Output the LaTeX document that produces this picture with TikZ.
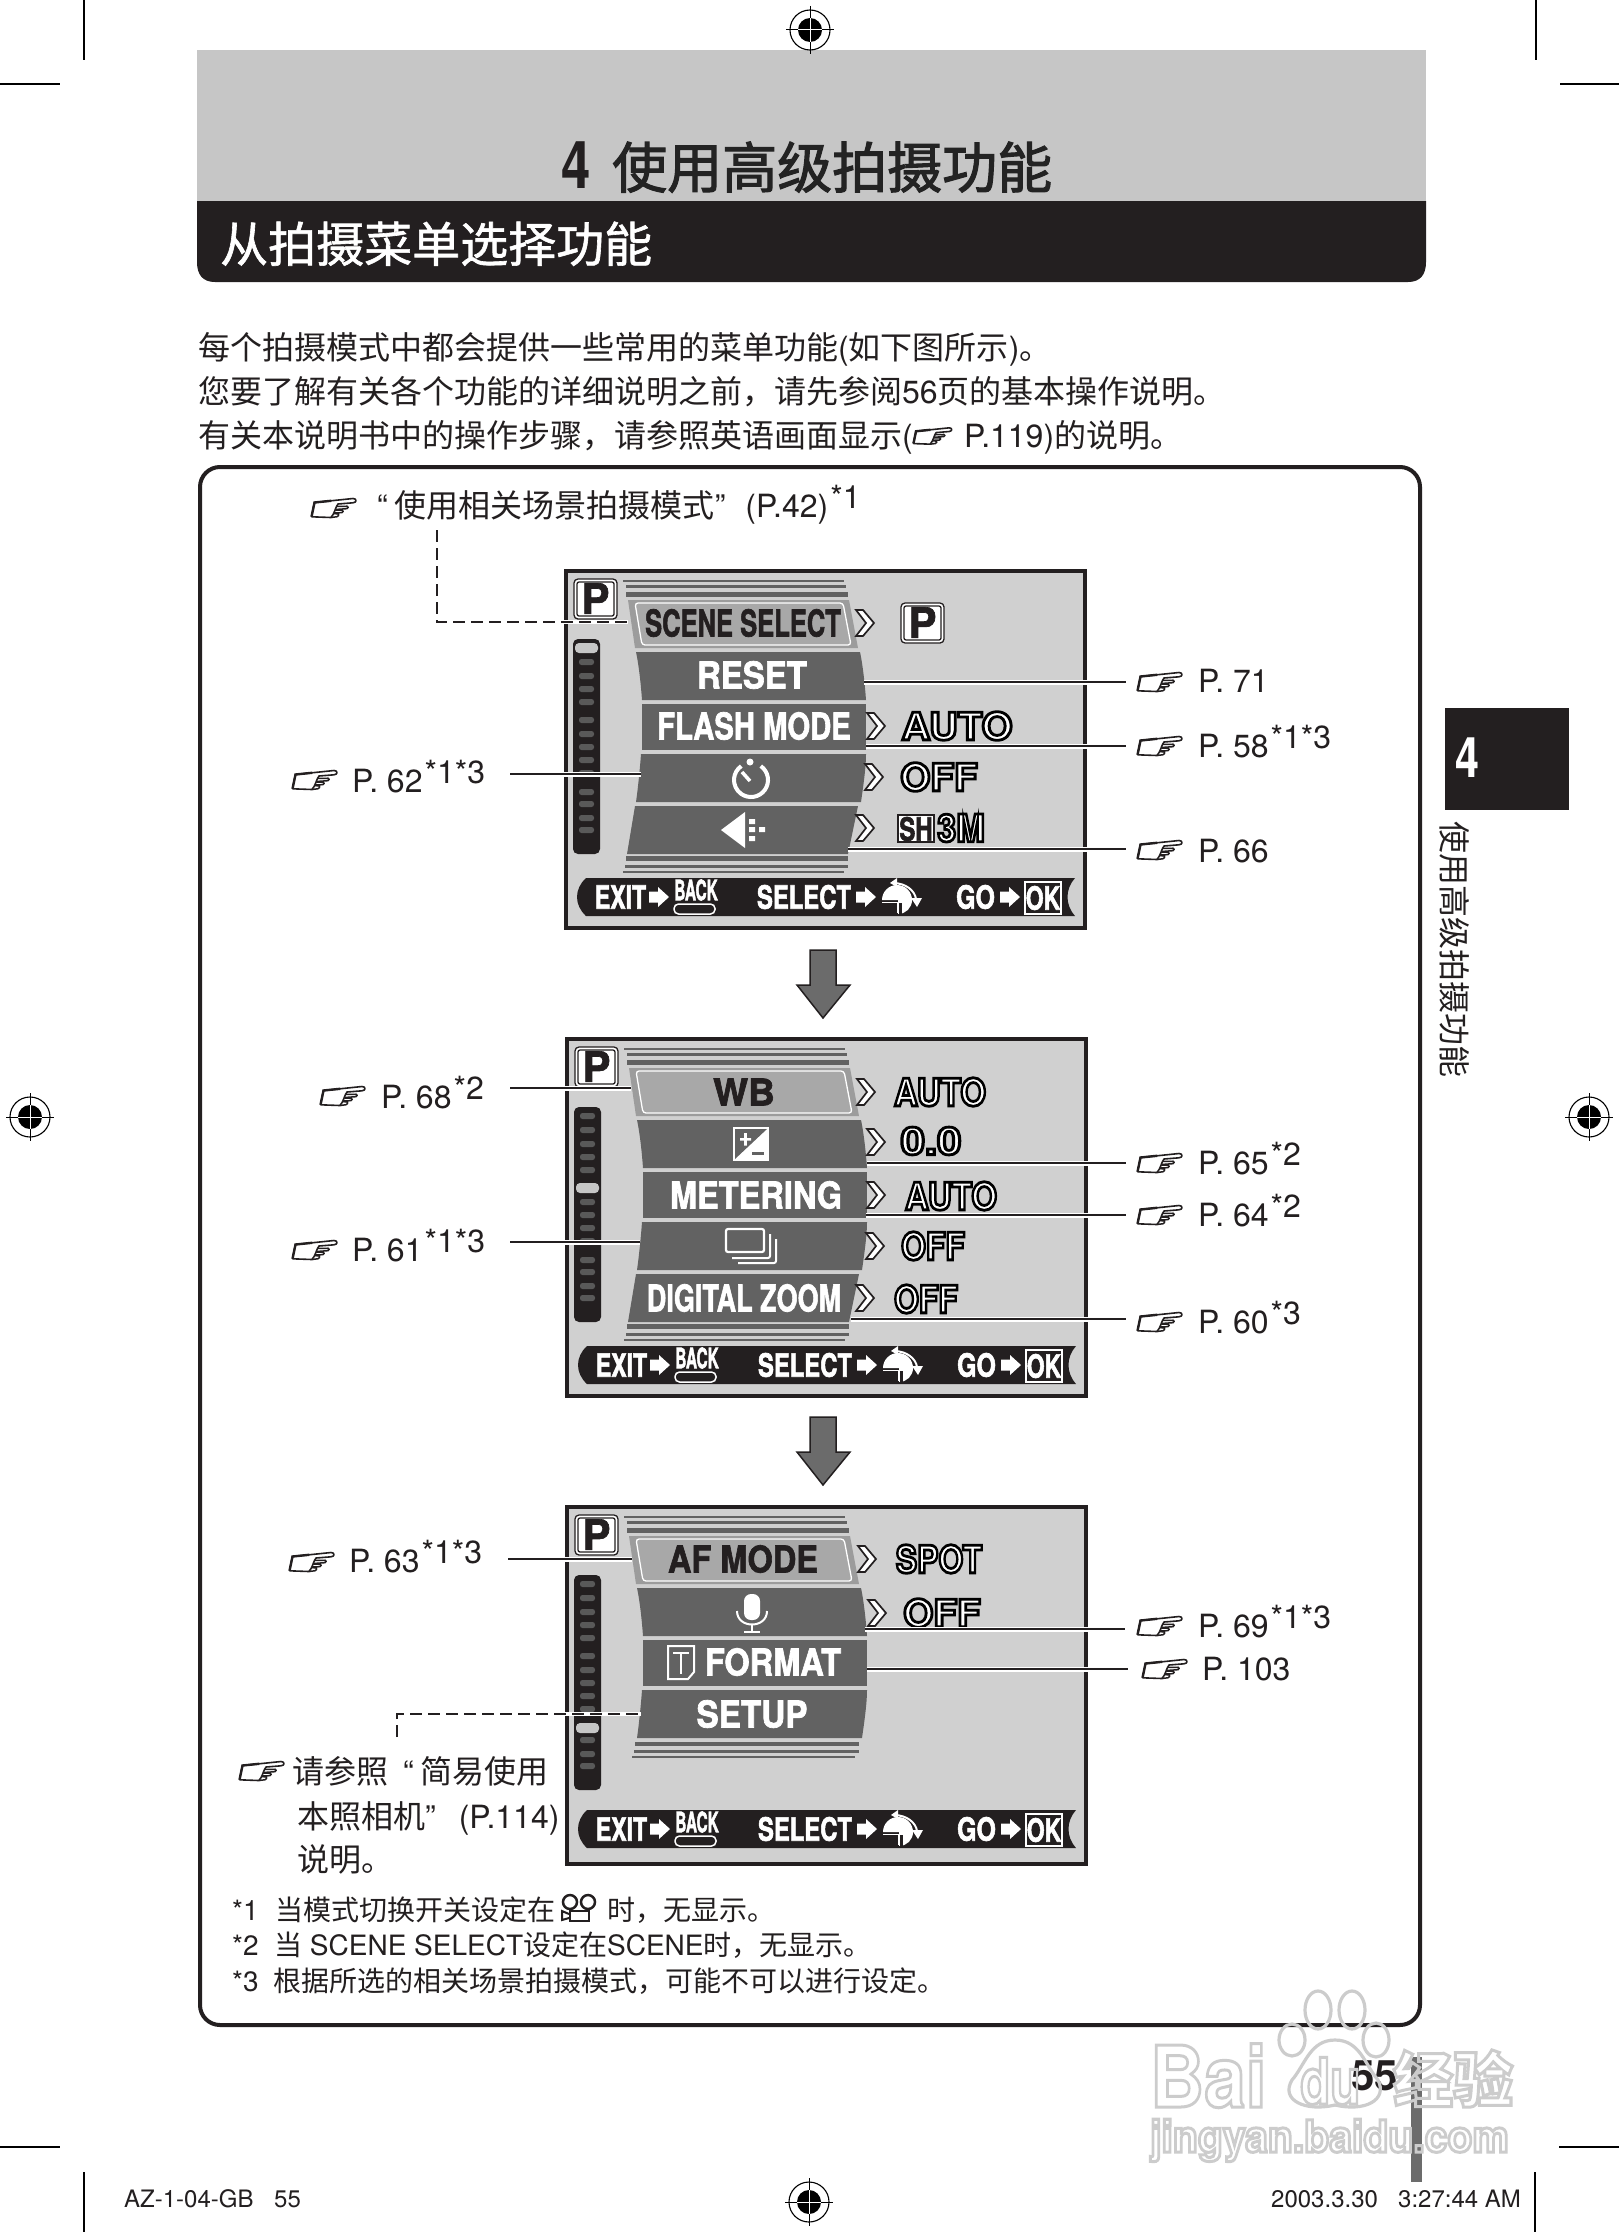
\documentclass[tikz,border=0pt]{standalone}
\usepackage{fontspec}
\setmainfont{TeX Gyre Heros}
\newfontfamily\cjkf{Noto Sans CJK SC}
\newcommand\zw[1]{{\cjkf #1}}
\definecolor{ink}{HTML}{231F20}
\definecolor{scr}{HTML}{D0D0D0}
\definecolor{bandc}{HTML}{626262}
\definecolor{selb}{HTML}{9C9C9C}
\definecolor{seli}{HTML}{A8A8A8}
\definecolor{hdr}{HTML}{C6C6C6}
\newcommand\ot[1]{\special{pdf:code 2 Tr 2.8 w 1 g 0 G}#1\special{pdf:code 0 Tr 1 w 0 g 0 G}}
\newcommand\wm[1]{\special{pdf:code 1 Tr 3 w 0.8 G}#1\special{pdf:code 0 Tr 1 w 0 G}}
\newcommand\hk[1]{\special{pdf:code 2 Tr 1.1 w 0.137 g 0.137 G}#1\special{pdf:code 0 Tr 1 w 0 g 0 G}}
\newcommand\hw[1]{\special{pdf:code 2 Tr 0.6 w 1 g 1 G}#1\special{pdf:code 0 Tr 1 w 0 g 0 G}}
\newcommand\supx[1]{\hspace{2pt}\raisebox{9pt}{\fontsize{32}{32}\selectfont #1}}
\tikzset{
  fs/.style={font=\fontsize{#1}{#1}\selectfont},
  tx/.style={fs=#1,anchor=base west,inner sep=0pt,text=ink},
  whitebold/.style={execute at begin node={\special{pdf:code 2 Tr 0.7 w 1 g 1 G}},execute at end node={\special{pdf:code 0 Tr 1 w 0 g 0 G}}},
  inkbold/.style={execute at begin node={\special{pdf:code 2 Tr 0.7 w 0.137 g 0.137 G}},execute at end node={\special{pdf:code 0 Tr 1 w 0 g 0 G}}},
  ml/.style={font=\fontsize{37}{37}\selectfont\bfseries,inner sep=0pt,transform shape,xscale=#1,text=white,whitebold},
  bt/.style={font=\fontsize{32}{32}\selectfont\bfseries,inner sep=0pt,transform shape,xscale=#1,text=white,whitebold},
  val/.style={font=\fontsize{38}{38}\selectfont\bfseries,inner sep=0pt,transform shape,xscale=#1},
  band/.style={fill=bandc},
  sline/.style={fill=bandc},
  leadh/.style={white,line width=5pt},
  leadk/.style={ink,line width=2.2pt},
  dashln/.style={ink,line width=1.8pt,dash pattern=on 12pt off 6pt},
  pics/handicon/.style={code={
    \draw[ink,line width=1.6pt,line join=round]
      (0.5,8.8) -- (3.5,-5.5) -- (42,-9.5) .. controls (46,-9.5) and (46,-5.5) .. (42,-5.2) -- (27,-4)
      .. controls (24,0) and (24,5) .. (20,9.5) -- (0.5,8.8);
    \draw[ink,line width=2.4pt] (0.5,8.8) -- (3.5,-5.5) -- (20,-7.2);
    \draw[ink,line width=1.5pt,rounded corners=1pt]
      (25,-1.5) -- (37,-1.8) -- (37,0.6) -- (24,1.5)
      (24.5,2.2) -- (32,2.2) -- (32,4.6) -- (23.5,5)
      (23,5.6) -- (28,6) -- (27,8.6) -- (20,9.5);
  }},
}
\newcommand\Reg[2]{%
  \fill[white] (#1,#2) circle[radius=20];
  \draw[black,line width=1.1pt] (#1,#2) circle[radius=20];
  \fill[black] (#1,#2) circle[radius=12];
  \draw[black,line width=1pt] (#1-24,#2) -- (#1+24,#2) (#1,#2-24) -- (#1,#2+24);
  \draw[white,line width=1pt] (#1-12,#2) -- (#1+12,#2) (#1,#2-12) -- (#1,#2+12);
}
\newcommand\Chev[2]{%
  \draw[ink,fill=white,line width=1.7pt,line join=miter]
    (#1-9,#2-13) -- (#1-2,#2-13) -- (#1+9,#2) -- (#1-2,#2+13) -- (#1-9,#2+13) -- (#1+1,#2) -- cycle;
}
\newcommand\Pbox[3]{%
  \draw[ink,fill=white,line width=1.3pt,rounded corners=4pt] (#1,#2) rectangle (#1+43,#2+40);
  \draw[ink,line width=1.3pt,rounded corners=2pt] (#1+3,#2+3) rectangle (#1+40,#2+37);
  \node[font=\fontsize{42}{42}\selectfont\bfseries,inner sep=0pt,text=ink,inkbold] (#3) at (#1+21.5,#2+19.5) {P};
}
\newcommand\WArr[2]{%
  \fill[white] (#1,#2-5.5) -- (#1+9,#2-5.5) -- (#1+9,#2-10) -- (#1+20,#2) -- (#1+9,#2+10) -- (#1+9,#2+5.5) -- (#1,#2+5.5) -- cycle;
}
% frame, dots, rulers, bar  #1 x  #2 y  #3 selected dot y  #4 bar offset  #5 name prefix
\newcommand\ScreenBase[5]{%
  \draw[ink,fill=scr,line width=4pt] (0,0) rectangle (519,357);
  \fill[ink,rounded corners=5pt] (7,68) rectangle (34,283);
  \foreach \yy in {77,91,105,118,131,149,163,176,189,202,221,233,247,259}{
    \fill[gray!70!black,rounded corners=2.5pt] (13,\yy-3) rectangle (28,\yy+3);
  }
  \fill[gray!45,rounded corners=4pt] (9,#3-5) rectangle (32,#3+5);
  \Pbox{8}{8}{#5p}
  \fill[sline] (57,9) rectangle (278,10.5);
  \fill[sline] (60,14) rectangle (280,17);
  \fill[sline] (60,21) rectangle (282,26);
  \fill[selb] (62,29) -- (283,29) -- (292,77) -- (69,77) -- cycle;
  \draw[white,fill=seli,line width=1.3pt,rounded corners=3pt] (69,32) -- (277,32) -- (285,74) -- (76,74) -- cycle;
  \begin{scope}[shift={(0,#4)}]
    \fill[ink] (20,307) -- (509,307) .. controls (499,318) and (499,334) .. (509,345) -- (20,345) .. controls (8,334) and (8,318) .. (20,307) -- cycle;
    \node[bt=.72] (#5exit) at (54.5,326) {EXIT};
    \WArr{83}{326}
    \node[font=\fontsize{28}{28}\selectfont\bfseries,inner sep=0pt,transform shape,xscale=.55,text=white,whitebold] (#5back) at (130,319) {BACK};
    \draw[white,line width=1.5pt,rounded corners=4.5pt] (108,333) rectangle (149,343);
    \node[bt=.745] (#5sel) at (238,326) {SELECT};
    \WArr{290}{326}
    \fill[white] (316,329) arc[start angle=180,end angle=0,radius=15pt] -- cycle;
    \fill[white] (332,329) -- (346,329) arc[start angle=0,end angle=-90,radius=14pt] -- cycle;
    \draw[ink,line width=2.5pt] (314,333.5) -- (334.5,333.5) -- (334.5,345);
    \draw[white,line width=1.5pt] (316,331.5) -- (332,331.5) -- (332,342);
    \draw[white,line width=2pt] (327,312) .. controls (340,312) and (349,320) .. (350,328);
    \fill[white] (345,327) -- (356,327) -- (351,336) -- cycle;
    \fill[white] (331,307) -- (331,316) -- (324,312) -- cycle;
    \node[bt=.78] (#5go) at (409.5,326) {GO};
    \WArr{434}{326}
    \draw[white,line width=1.8pt] (459,311) rectangle (495,343);
    \node[bt=.72] (#5ok) at (477,327) {OK};
  \end{scope}
}
\newcommand\RulersBottom{%
  \fill[sline] (60,285) rectangle (282,290);
  \fill[sline] (59,294) rectangle (282,297);
  \fill[sline] (57,300) rectangle (278,301.5);
}
\newcommand\BandsMid{%
  \fill[band] (70,81) -- (294,81) .. controls (297,95) and (299,115) .. (300,129) -- (76,129) .. controls (75,115) and (73,95) .. (70,81) -- cycle;
  \fill[band] (76,133) -- (300,133) -- (300,179) -- (76,179) -- cycle;
  \fill[band] (75,183) -- (300,183) .. controls (300,197) and (297,217) .. (295,231) -- (70,231) .. controls (72,217) and (74,197) .. (75,183) -- cycle;
}
\newcommand\BandFive{\fill[band] (69,235) -- (292,235) -- (282,283) -- (61,283) -- cycle;}
% leader: name, x1, y, x2
\newcommand\Lead[4]{%
  \coordinate (#1a) at (#2,#3); \coordinate (#1b) at (#4,#3);
  \draw[leadh] (#1a) -- (#1b);
  \draw[leadk] (#1a) -- (#1b);
}
\begin{document}
\begin{tikzpicture}[x=1pt,y=-1pt]
\useasboundingbox (0,0) rectangle (1619,2232);
\fill[white] (0,0) rectangle (1619,2232);
% crop marks
\draw[black,line width=1.1pt]
  (84,0) -- (84,60) (1536,0) -- (1536,60) (0,84) -- (60,84) (1560,84) -- (1619,84)
  (84,2172) -- (84,2232) (1535,2172) -- (1535,2232) (0,2147) -- (60,2147) (1559,2147) -- (1619,2147);
% header
\fill[hdr] (197,50) rectangle (1426,201);
\fill[ink] (197,201) -- (1426,201) -- (1426,262) .. controls (1426,275) and (1420,282) .. (1408,282) -- (215,282) .. controls (203,282) and (197,275) .. (197,262) -- cycle;
\Reg{810}{30}
\Reg{30}{1117}
\Reg{1589}{1117}
\Reg{809}{2202}
\node[font=\fontsize{66}{66}\selectfont\bfseries,anchor=base west,inner sep=0pt,text=ink,transform shape,xscale=.8] (ttl4) at (561,188) {4};
\node[font=\fontsize{55}{55}\selectfont,anchor=base west,inner sep=0pt,text=ink] (ttl) at (612,188) {\zw{\hk{使用高级拍摄功能}}};
\node[font=\fontsize{48}{48}\selectfont,anchor=base west,inner sep=0pt,text=white] (sub) at (220,262) {\zw{\hw{从拍摄菜单选择功能}}};
% intro
\node[tx=32] (p1) at (198,359) {\zw{每个拍摄模式中都会提供一些常用的菜单功能}(\zw{如下图所示})\zw{。}};
\node[tx=32] (p2) at (198,403) {\zw{您要了解有关各个功能的详细说明之前，请先参阅}56\zw{页的基本操作说明。}};
\node[tx=32] (p3a) at (198,447) {\zw{有关本说明书中的操作步骤，请参照英语画面显示}(};
\pic[scale=.86] at (913,436) {handicon};
\node[tx=32] (p3b) at (964,447) {P.119)\zw{的说明。}};
% frame
\draw[ink,line width=4pt,rounded corners=20pt] (200,467) rectangle (1420,2025);
% top callout
\pic at (311,508) {handicon};
\node[tx=32] (top) at (377,517) {“\hspace{7pt}\zw{使用相关场景拍摄模式}”\hspace{20pt}(P.42)\supx{*1}};
% ---------- screen 1
\begin{scope}[shift={(566,571)}]
  \ScreenBase{0}{0}{77}{0}{sa}
  \BandsMid\BandFive\RulersBottom
  \node[ml=.69,text=ink,inkbold] (a1) at (177,52) {SCENE SELECT};
  \node[ml=.89] (a2) at (186,104) {RESET};
  \node[ml=.79] (a3) at (188,155) {FLASH MODE};
  \draw[white,line width=4pt] (185,209) ++(55:17pt) arc[start angle=55,end angle=-235,radius=17pt];
  \fill[white] (184,191) circle[radius=3.5];
  \draw[white,line width=3.5pt] (176,201) -- (184,210);
  \fill[white] (155,259) -- (179,241) -- (179,277) -- cycle;
  \fill[white] (183,248) rectangle (189,253) (183,256) rectangle (189,261) (183,265) rectangle (189,270) (193,256) rectangle (199,261);
  \Chev{299}{52}\Chev{310}{155}\Chev{308}{206}\Chev{299}{257}
  \Pbox{335}{32}{avp}
  \node[val=1.05] (av2) at (391,155) {\ot{AUTO}};
  \node[val=1.02] (av3) at (373,206) {\ot{OFF}};
  \draw[ink,fill=white,line width=1.5pt] (332,244) rectangle (368,271);
  \node[font=\fontsize{32}{32}\selectfont\bfseries,inner sep=0pt,transform shape,xscale=.75,text=ink,inkbold] (av4) at (350,258) {SH};
  \node[val=.9] (av5) at (395,257) {\ot{3M}};
\end{scope}
% ---------- screen 2
\begin{scope}[shift={(567,1039)}]
  \ScreenBase{0}{0}{149}{0}{sb}
  \BandsMid\BandFive\RulersBottom
  \node[ml=1,text=ink,inkbold] (b1) at (177,53) {WB};
  \fill[white] (166,88) rectangle (202,122);
  \fill[bandc] (168,90) -- (200,90) -- (168,120) -- cycle;
  \fill[white] (173,99) rectangle (184,101.5) (177.2,94) rectangle (179.8,106.5);
  \fill[bandc] (185,113) rectangle (197,116);
  \node[ml=.88] (b3) at (189,156) {METERING};
  \draw[white,line width=2.2pt,rounded corners=2pt] (159,190) rectangle (197,213);
  \draw[white,line width=2pt,rounded corners=2pt] (203,195) -- (203,219) -- (165,219);
  \draw[white,line width=2pt,rounded corners=2pt] (209,200) -- (209,224) -- (171,224);
  \node[ml=.73] (b5) at (177,259) {DIGITAL ZOOM};
  \Chev{299}{53}\Chev{309}{103}\Chev{309}{156}\Chev{308}{207}\Chev{298}{259}
  \node[val=.87] (bv1) at (373,53) {\ot{AUTO}};
  \node[val=1.15] (bv2) at (364,102) {\ot{0.0}};
  \node[val=.87] (bv3) at (384,157) {\ot{AUTO}};
  \node[val=.84] (bv4) at (366,207) {\ot{OFF}};
  \node[val=.84] (bv5) at (359,260) {\ot{OFF}};
\end{scope}
% ---------- screen 3
\begin{scope}[shift={(567,1507)}]
  \ScreenBase{0}{0}{221}{-4}{sc}
  \BandsMid
  \fill[sline] (68,235) rectangle (292,239);
  \fill[sline] (67,243) rectangle (292,246);
  \fill[sline] (65,249) rectangle (288,250.5);
  \node[ml=.88,text=ink,inkbold] (c1) at (176,52) {AF MODE};
  \fill[white,rounded corners=7pt] (177,87) rectangle (193,113);
  \draw[white,line width=2pt] (170,104) .. controls (170,122) and (200,122) .. (200,104);
  \draw[white,line width=2pt] (185,117) -- (185,124) (177,125) -- (193,125);
  \draw[white,line width=2pt] (101,139) -- (127,139) -- (127,165) -- (121,172) -- (101,172) -- cycle;
  \draw[white,line width=2.5pt] (106,146) -- (122,146) (114,146) -- (114,167);
  \node[ml=.88] (c3) at (206,155) {FORMAT};
  \node[ml=.9] (c4) at (185,207) {SETUP};
  \Chev{300}{52}\Chev{310}{106}
  \node[val=.84] (cv1) at (372,52) {\ot{SPOT}};
  \node[val=1.02] (cv2) at (375,106) {\ot{OFF}};
\end{scope}
% grey arrows
\draw[ink,fill=black!58,line width=1.5pt] (810,950) -- (836,950) -- (836,985) -- (850,985) -- (823,1018) -- (797,985) -- (810,985) -- cycle;
\draw[ink,fill=black!58,line width=1.5pt] (810,1417) -- (836,1417) -- (836,1452) -- (850,1452) -- (823,1485) -- (797,1452) -- (810,1452) -- cycle;
% dashed leader 1
\coordinate (d1a) at (437,530); \coordinate (d1b) at (437,622); \coordinate (d1c) at (628,622);
\draw[white,line width=3.6pt] (d1b) -- (d1c);
\draw[dashln] (d1a) -- (d1b) -- (d1c);
% leaders
\Lead{l71}{864}{682}{1126}
\Lead{l58}{866}{746}{1126}
\Lead{l62}{510}{774}{641}
\Lead{l66}{848}{849}{1126}
\Lead{l68}{510}{1088}{631}
\Lead{l61}{510}{1242}{640}
\Lead{l65}{867}{1163}{1126}
\Lead{l64}{866}{1215}{1126}
\Lead{l60}{851}{1319}{1126}
\Lead{l63}{508}{1559}{632}
\Lead{l69}{865}{1629}{1125}
\Lead{l103}{867}{1669}{1128}
% dashed leader 2
\coordinate (d2a) at (397,1737); \coordinate (d2b) at (397,1714); \coordinate (d2c) at (641,1714);
\draw[white,line width=3.6pt] (d2b) -- (d2c);
\draw[dashln] (d2a) -- (d2b) -- (d2c);
% labels right
\pic at (1137,682) {handicon}; \node[tx=32] (t71) at (1198,692) {P. 71};
\pic at (1137,746) {handicon}; \node[tx=32] (t58) at (1198,757) {P. 58\supx{*1*3}};
\pic at (1137,850) {handicon}; \node[tx=32] (t66) at (1198,862) {P. 66};
\pic at (1137,1163) {handicon}; \node[tx=32] (t65) at (1198,1174) {P. 65\supx{*2}};
\pic at (1137,1215) {handicon}; \node[tx=32] (t64) at (1198,1226) {P. 64\supx{*2}};
\pic at (1137,1322) {handicon}; \node[tx=32] (t60) at (1198,1333) {P. 60\supx{*3}};
\pic at (1137,1626) {handicon}; \node[tx=32] (t69) at (1198,1637) {P. 69\supx{*1*3}};
\pic at (1142,1669) {handicon}; \node[tx=32] (t103) at (1202,1680) {P. 103};
% labels left
\pic at (292,780) {handicon}; \node[tx=32] (t62) at (352,792) {P. 62\supx{*1*3}};
\pic at (320,1096) {handicon}; \node[tx=32] (t68) at (381,1108) {P. 68\supx{*2}};
\pic at (292,1250) {handicon}; \node[tx=32] (t61) at (352,1261) {P. 61\supx{*1*3}};
\pic at (289,1562) {handicon}; \node[tx=32] (t63) at (349,1572) {P. 63\supx{*1*3}};
% setup label
\pic at (239,1771) {handicon};
\node[tx=32] (s1) at (292,1783) {\zw{请参照}\hspace{15pt}“\hspace{7pt}\zw{简易使用}};
\node[tx=32] (s2) at (297,1828) {\zw{本照相机}”\hspace{23pt}(P.114)};
\node[tx=32] (s3) at (297,1871) {\zw{说明。}};
% footnotes
\node[tx=28] (f1a) at (232,1920) {*1};
\node[tx=28] (f1b) at (275,1920) {\zw{当模式切换开关设定在}};
\draw[ink,line width=2.5pt] (570,1902) circle[radius=7] (588,1902) circle[radius=7];
\draw[ink,line width=2.5pt] (570,1911) rectangle (589,1921);
\draw[ink,line width=2pt] (569,1914) -- (562,1911) -- (562,1920) -- (569,1918);
\node[tx=28] (f1c) at (607,1920) {\zw{时，无显示。}};
\node[tx=28] (f2a) at (232,1955) {*2};
\node[tx=28] (f2b) at (274,1955) {\zw{当} SCENE SELECT\zw{设定在}SCENE\zw{时，无显示。}};
\node[tx=28] (f3a) at (232,1991) {*3};
\node[tx=28] (f3b) at (273,1991) {\zw{根据所选的相关场景拍摄模式，可能不可以进行设定。}};
% side tab
\fill[ink] (1445,708) rectangle (1569,810);
\node[font=\fontsize{56}{56}\selectfont\bfseries,inner sep=0pt,transform shape,xscale=.77,text=white,anchor=base west] (tab4) at (1455,777) {4};
\node[tx=32,anchor=center,rotate=-90] (tabt) at (1455,949) {\zw{使用高级拍摄功能}};
% page number and bar
\node[font=\fontsize{42}{42}\selectfont\bfseries,anchor=base west,inner sep=0pt,text=ink] (pg) at (1351,2090) {55};
\fill[gray!85!black] (1411,2057) rectangle (1422,2182);
% watermark
\begin{scope}[gray!40,line width=3.2pt]
  \draw (1318,2010) ellipse[x radius=13,y radius=19] (1352,2010) ellipse[x radius=13,y radius=19] (1292,2040) ellipse[x radius=13,y radius=16] (1376,2040) ellipse[x radius=13,y radius=17];
  \draw (1335,2040) .. controls (1360,2040) and (1365,2065) .. (1378,2080) .. controls (1388,2100) and (1365,2112) .. (1335,2105) .. controls (1305,2112) and (1280,2100) .. (1292,2080) .. controls (1305,2065) and (1310,2040) .. (1335,2040) -- cycle;
\end{scope}
\node[font=\fontsize{85}{85}\selectfont\bfseries,anchor=base west,inner sep=0pt,transform shape,xscale=.88] (wm1) at (1150,2107) {\wm{Bai}};
\node[font=\fontsize{64}{64}\selectfont\bfseries,anchor=base west,inner sep=0pt,transform shape,xscale=.77] (wm2) at (1300,2104) {\wm{du}};
\node[font=\fontsize{60}{60}\selectfont\bfseries,anchor=base west,inner sep=0pt] (wm3) at (1393,2102) {\zw{\wm{经验}}};
\node[font=\fontsize{44}{44}\selectfont\bfseries,anchor=base west,inner sep=0pt,transform shape,xscale=.93] (wm4) at (1150,2152) {\wm{jingyan.baidu.com}};
% footer
\node[tx=24] (fl1) at (124,2207) {AZ-1-04-GB};
\node[tx=24] (fl2) at (274,2207) {55};
\node[tx=24] (fr1) at (1271,2207) {2003.3.30};
\node[tx=24] (fr2) at (1398,2207) {3:27:44 AM};
\end{tikzpicture}
\end{document}
